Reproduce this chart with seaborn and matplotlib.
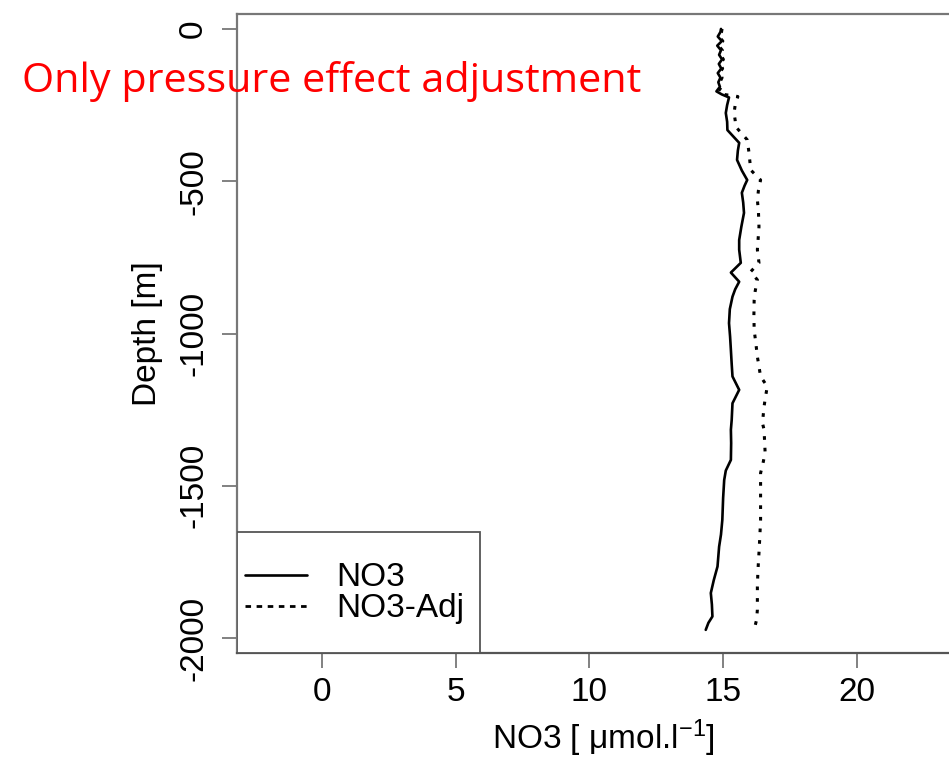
import matplotlib
matplotlib.use("Agg")
import matplotlib.pyplot as plt
from matplotlib.patches import Rectangle
from matplotlib.lines import Line2D
import seaborn as sns
import pandas as pd

# ---- data ----
depth_no3 = [0, -10, -25, -40, -55, -70, -85, -100, -115, -130, -145, -160, -175, -190, -205, -215,
             -225, -250, -276, -305, -332, -355, -374, -400, -430, -465, -496, -515, -538, -570,
             -604, -650, -693, -725, -768, -800, -830, -855, -879, -920, -966, -1010, -1054,
             -1100, -1141, -1185, -1229, -1284, -1316, -1360, -1415, -1450, -1481, -1540,
             -1612, -1660, -1700, -1765, -1810, -1852, -1890, -1929, -1950, -1973]
no3 = [14.92, 14.90, 14.80, 14.95, 14.78, 14.92, 14.85, 14.96, 14.84, 14.93, 14.80, 14.90, 14.82,
       14.88, 14.75, 14.95, 15.22, 15.15, 15.10, 15.15, 15.16, 15.40, 15.60, 15.55, 15.52, 15.70,
       15.90, 15.80, 15.70, 15.75, 15.78, 15.68, 15.60, 15.60, 15.66, 15.29, 15.60, 15.45, 15.35,
       15.25, 15.22, 15.26, 15.29, 15.32, 15.35, 15.60, 15.35, 15.32, 15.29, 15.30, 15.29, 15.10,
       15.04, 15.00, 14.97, 14.92, 14.85, 14.79, 14.65, 14.54, 14.58, 14.60, 14.45, 14.35]

depth_adj = [0, -10, -25, -40, -55, -70, -85, -100, -115, -130, -145, -160, -175, -190, -205, -215,
             -222, -250, -276, -300, -321, -364, -408, -463, -496, -530, -561, -600, -650, -700,
             -725, -768, -797, -824, -860, -890, -940, -988, -1030, -1076, -1141, -1174, -1210,
             -1240, -1294, -1316, -1392, -1430, -1458, -1540, -1612, -1670, -1720, -1780, -1831,
             -1870, -1907, -1940, -1973]
no3_adj = [14.96, 14.94, 14.84, 14.99, 14.83, 14.97, 14.90, 15.01, 14.89, 14.98, 14.86, 14.96, 14.88,
           14.94, 14.82, 15.02, 15.55, 15.45, 15.41, 15.45, 15.47, 15.90, 15.97, 16.03, 16.40, 16.32,
           16.28, 16.32, 16.34, 16.30, 16.28, 16.34, 16.03, 16.28, 16.20, 16.16, 16.15, 16.16, 16.22,
           16.28, 16.40, 16.65, 16.58, 16.53, 16.47, 16.53, 16.57, 16.48, 16.40, 16.40, 16.40, 16.37,
           16.34, 16.30, 16.28, 16.28, 16.28, 16.25, 16.16]

x_ticks = [0, 5, 10, 15, 20]
y_ticks = [0, -500, -1000, -1500, -2000]
series_names = ["NO3", "NO3-Adj"]
title_text = "Only pressure effect adjustment"
x_label = "NO3 [ $\\mu$mol.l$^{-1}$]"
y_label = "Depth [m]"

# ---- style ----
sns.set_theme(style="white")
plt.rcParams["font.family"] = ["Liberation Sans", "DejaVu Sans"]
plt.rcParams["mathtext.fontset"] = "custom"
plt.rcParams["mathtext.rm"] = "Liberation Sans"
plt.rcParams["mathtext.it"] = "Liberation Sans"
plt.rcParams["text.color"] = "black"
plt.rcParams["axes.labelcolor"] = "black"

W, H, DPI = 949, 761, 100
fig = plt.figure(figsize=(W / DPI, H / DPI), dpi=DPI)
ax = fig.add_axes([237 / W, 1 - 653 / H, (969 - 237) / W, (653 - 14) / H])

df1 = pd.DataFrame({"x": no3, "y": depth_no3})
df2 = pd.DataFrame({"x": no3_adj, "y": depth_adj})
sns.lineplot(data=df1, x="x", y="y", sort=False, estimator=None, ax=ax,
             color="black", linewidth=1.9)
sns.lineplot(data=df2, x="x", y="y", sort=False, estimator=None, ax=ax,
             color="black", linewidth=2.2, linestyle=(0, (1.2, 2.6)))

ax.set_xlim(-3.17, 24.19)
ax.set_ylim(-2049, 49)
ax.set_xticks(x_ticks)
ax.set_xticklabels([str(v) for v in x_ticks])
ax.set_yticks(y_ticks)
ax.set_yticklabels([str(v) for v in y_ticks], rotation=90, va="center")

fs = 24
ax.tick_params(axis="both", which="major", direction="out", length=11, width=1.3,
               colors="#777777", labelcolor="black", labelsize=fs, left=True, bottom=True)
ax.tick_params(axis="x", pad=6)
ax.tick_params(axis="y", pad=9)
for s in ax.spines.values():
    s.set_color("#777777")
    s.set_linewidth(1.6)
ax.spines["bottom"].set_color("#555555")

ax.set_xlabel(x_label, fontsize=fs, labelpad=7, color="black")
ax.set_ylabel(y_label, fontsize=fs, labelpad=11, color="black")

# legend frame + legend
ax.add_patch(Rectangle((0, 0), (480 - 237) / 732, (653 - 532) / 639, transform=ax.transAxes,
                       facecolor="white", edgecolor="#555555", linewidth=1.3, zorder=5))
handles = [Line2D([], [], color="black", linewidth=1.9),
           Line2D([], [], color="black", linewidth=2.0, linestyle=(0, (2.0, 2.0)))]
leg = ax.legend(handles, series_names, loc="center left",
                bbox_to_anchor=((245 - 237) / 732, (653 - 593.5) / 639),
                frameon=False, fontsize=fs, handlelength=1.85, handletextpad=0.9,
                labelspacing=0.0, borderpad=0, borderaxespad=0, labelcolor="black")
leg.set_zorder(6)

# red annotation title, fit to width of 620 px
t = fig.text(22 / W, 1 - 82 / H, title_text, color="#FF0000", fontsize=28,
             family=["Open Sans", "DejaVu Sans"], ha="left", va="center")
fig.canvas.draw()
bb = t.get_window_extent()
t.set_fontsize(28 * 620 / bb.width)

fig.savefig("out.png", dpi=DPI)
